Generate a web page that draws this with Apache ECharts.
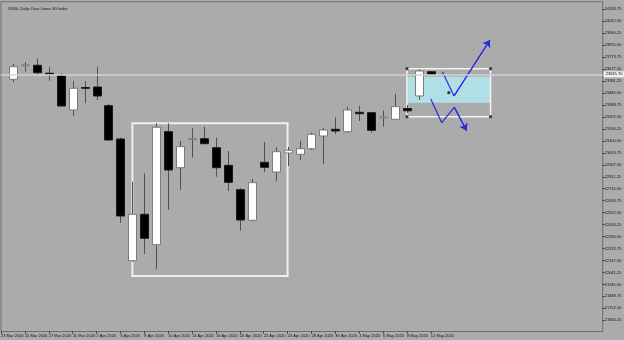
<!DOCTYPE html>
<html>
<head>
<meta charset="utf-8">
<script src="https://cdn.jsdelivr.net/npm/echarts@6/dist/echarts.min.js"></script>
<style>
html,body{margin:0;padding:0;background:#ababab;}
#c{width:624px;height:340px;}
</style>
</head>
<body>
<div id="c"></div>
<script>
// ---- data ----
const chartTitle = 'US30, Daily: Dow Jones 30 Index';
const dates = ['23 Mar 2020','24 Mar 2020','25 Mar 2020','26 Mar 2020','27 Mar 2020','30 Mar 2020','31 Mar 2020',
  '1 Apr 2020','2 Apr 2020','3 Apr 2020','6 Apr 2020','7 Apr 2020','8 Apr 2020','9 Apr 2020','10 Apr 2020',
  '13 Apr 2020','14 Apr 2020','15 Apr 2020','16 Apr 2020','17 Apr 2020','20 Apr 2020','21 Apr 2020','22 Apr 2020',
  '23 Apr 2020','24 Apr 2020','27 Apr 2020','28 Apr 2020','29 Apr 2020','30 Apr 2020','1 May 2020','4 May 2020',
  '5 May 2020','6 May 2020','7 May 2020','8 May 2020','11 May 2020','12 May 2020'];
// candles drawn start at date index 1 (index 0 is scrolled off the left edge)
const firstCandle = 1;
const opens  = [23595.5,23708.2,23708.2,23644.6,23624.5,23348.5,23529.5,23533.6,23383.1,23115.1,22135.9,22509.3,22264.7,23173.9,22884.2,23112.7,23117.6,23045.1,22903.5,22707.2,22461.0,22927.7,22849.6,23002.5,22992.0,23037.1,23139.3,23193.2,23173.9,23330.0,23326.8,23288.1,23273.7,23360.6,23461.1,23656.7];
const closes = [23696.9,23712.2,23648.6,23640.6,23380.7,23523.1,23525.5,23461.1,23107.1,22495.6,22509.3,22316.2,23209.3,22865.7,23053.2,23116.8,23077.3,22884.2,22766.7,22463.4,22763.5,22887.4,23013.0,23024.2,23037.1,23153.0,23187.6,23179.5,23348.5,23318.7,23185.2,23292.2,23375.0,23342.1,23662.3,23635.7];
const lows   = [23573.8,23656.7,23630.1,23584.2,23375.0,23300.2,23402.4,23429.0,23099.1,22441.7,22127.9,22189.8,22066.7,22543.9,22704.8,22966.3,23074.9,22811.8,22696.7,22377.3,22452.9,22847.2,22774.8,22897.9,22946.2,23026.6,22911.6,23155.4,23165.8,23260.0,23165.8,23214.1,23268.0,23324.4,23429.0,23631.7];
const highs  = [23718.6,23734.7,23764.5,23692.1,23643.8,23581.8,23581.8,23696.9,23396.8,23125.6,22771.6,22839.2,23241.5,23241.5,23099.1,23201.2,23214.1,23125.6,23018.6,22718.5,22793.3,23091.0,23048.4,23050.8,23101.5,23165.8,23206.1,23289.8,23375.0,23383.1,23334.8,23342.9,23477.2,23388.7,23676.0,23659.9];
const currentPrice = 23635.7;
const yTickValues = [24158.75,24062.50,23966.25,23870.00,23773.75,23677.50,23581.25,23485.00,23388.75,23292.50,23196.25,23100.00,23003.75,22907.50,22811.25,22715.00,22618.75,22522.50,22426.25,22330.00,22233.75,22137.50,22041.25,21945.00,21848.75,21752.50,21656.25];
const yTickLabels = ['24158.75','24062.50','23966.25','23870.00','23773.75','23677.50','23581.25','23485.00','23388.75','23292.50','23196.25','23100.00','23003.75','22907.50','22811.25','22715.00','22618.75','22522.50','22426.25','22330.00','22233.75','22137.50','22041.25','21945.00','21848.75','21752.50','21656.25'];
const xTickValues = [0,2,4,6,8,10,12,14,16,18,20,22,24,26,28,30,32,34,36];
// drawn objects (bar index, price)
const boxX = [11, 24];
const boxY = [23241.5, 22012.8];
const zoneX = [34, 41];
const zoneY = [23616.4, 23407.2];
const selX = [34, 41];
const selY = [23680.8, 23294.6];
const selCenter = [37.5, 23487.7];
const arrowUp = [[36.96, 23656.7], [37.94, 23461.1], [40.95, 23911.7]];
const arrowDown = [[35.99, 23437.0], [36.91, 23246.3], [37.96, 23370.2], [39.0, 23181.9]];

// ---- build ----
const candleData = opens.map((o, k) => [k + firstCandle, o, closes[k], lows[k], highs[k]]);
function segs(pts) { const r = []; for (let i = 0; i < pts.length - 1; i++) r.push({coords: [pts[i], pts[i + 1]]}); return r; }
function lastSeg(pts) { const n = pts.length; return {coords: [pts[n - 2], pts[n - 1]]}; }
const handles = [[selX[0], selY[0]], [selX[1], selY[0]], [selX[0], selY[1]], [selX[1], selY[1]], selCenter];

const chart = echarts.init(document.getElementById('c'));
const FONT = 'Liberation Sans';
chart.setOption({
  animation: false,
  backgroundColor: '#ababab',
  title: {text: chartTitle, left: 3, top: 2, textStyle: {fontSize: 4, fontWeight: 'normal', color: '#111', fontFamily: FONT}},
  grid: {left: 1, right: 21.3, top: 1.7, bottom: 8.5, containLabel: false, outerBoundsMode: 'none',
    show: true, borderColor: '#6f6f6f', borderWidth: 1, backgroundColor: 'transparent'},
  xAxis: {
    type: 'value', min: 0, max: 50.39,
    axisLine: {show: false, onZero: false}, splitLine: {show: false},
    axisTick: {show: true, length: 2, lineStyle: {color: '#333'}, customValues: xTickValues},
    axisLabel: {customValues: xTickValues, formatter: v => dates[v] || '', align: 'left', margin: 2,
      fontSize: 4, color: '#111', fontFamily: FONT}
  },
  yAxis: {
    type: 'value', position: 'right', min: 21566.1, max: 24219.9, scale: true,
    axisLine: {show: false, onZero: false}, splitLine: {show: false},
    axisTick: {show: true, length: 2, lineStyle: {color: '#333'}, customValues: yTickValues},
    axisLabel: {customValues: yTickValues, formatter: v => { const i = yTickValues.indexOf(v); return i >= 0 ? yTickLabels[i] : v.toFixed(2); },
      margin: 2, fontSize: 4, color: '#111', fontFamily: FONT}
  },
  series: [
    {
      type: 'line', data: [], z: 1, silent: true,
      markArea: {
        silent: true, label: {show: false},
        data: [
          [{coord: [zoneX[0], zoneY[0]], itemStyle: {color: '#b0e0e6', borderWidth: 0}}, {coord: [zoneX[1], zoneY[1]]}],
          [{coord: [boxX[0], boxY[0]], itemStyle: {color: 'rgba(0,0,0,0)', borderColor: '#efefef', borderWidth: 2}}, {coord: [boxX[1], boxY[1]]}],
          [{coord: [selX[0], selY[0]], itemStyle: {color: 'rgba(0,0,0,0)', borderColor: '#f2f2f2', borderWidth: 1.5}}, {coord: [selX[1], selY[1]]}]
        ]
      },
      markLine: {
        silent: true, symbol: ['none', 'none'],
        lineStyle: {color: '#d2d2d2', width: 1.5, type: 'solid'},
        label: {show: true, position: 'end', distance: 1, formatter: currentPrice.toFixed(2), fontSize: 4, color: '#000',
          backgroundColor: '#f0f0f0', padding: [1, 2], fontFamily: FONT},
        data: [{yAxis: currentPrice}]
      }
    },
    {
      type: 'custom', z: 3, silent: true,
      data: candleData,
      encode: {x: 0, y: [1, 2, 3, 4]},
      renderItem: function (params, api) {
        const i = api.value(0), o = api.value(1), c = api.value(2), l = api.value(3), h = api.value(4);
        const pO = api.coord([i, o]), pC = api.coord([i, c]), pL = api.coord([i, l]), pH = api.coord([i, h]);
        const w = 8;
        const x = Math.round(pO[0]) + 0.5;
        const top = Math.min(pO[1], pC[1]), bot = Math.max(pO[1], pC[1]);
        const bull = c >= o;
        return {type: 'group', children: [
          {type: 'line', shape: {x1: x, y1: pH[1], x2: x, y2: pL[1]}, style: {stroke: '#505050', lineWidth: 1}},
          {type: 'rect', shape: {x: x - w / 2, y: top, width: w, height: Math.max(bot - top, 0.8)},
            style: {fill: bull ? '#ffffff' : '#000000', stroke: bull ? '#7a7a7a' : '#1a1a1a', lineWidth: 1}}
        ]};
      }
    },
    {
      type: 'lines', coordinateSystem: 'cartesian2d', z: 4, silent: true,
      symbol: ['none', 'none'],
      lineStyle: {color: '#2a2ae0', width: 1.2, opacity: 1, curveness: 0},
      data: segs(arrowUp).concat(segs(arrowDown))
    },
    {
      type: 'lines', coordinateSystem: 'cartesian2d', z: 4, silent: true,
      symbol: ['none', 'arrow'], symbolSize: [5, 7],
      lineStyle: {color: '#2a2ae0', width: 1.2, opacity: 1, curveness: 0},
      data: [lastSeg(arrowUp), lastSeg(arrowDown)]
    },
    {
      type: 'scatter', z: 5, silent: true, symbol: 'circle', symbolSize: 3.2,
      itemStyle: {color: '#111'},
      data: handles
    }
  ]
});
</script>
</body>
</html>
